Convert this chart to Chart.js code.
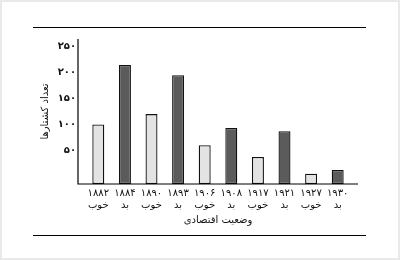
<!DOCTYPE html>
<html>
<head>
<meta charset="utf-8">
<script src="https://cdn.jsdelivr.net/npm/chart.js@4"></script>
<style>
  html, body { margin: 0; padding: 0; background: #fff; }
  #wrap { position: relative; width: 400px; height: 260px; box-sizing: border-box; border: 2px solid #e9e9e9; background: #fff; }
  #chart { position: absolute; left: 0; top: 0; }
  .rule { position: absolute; left: 31px; width: 333px; height: 1px; background: #000; }
</style>
</head>
<body>
<div id="wrap">
  <div class="rule" style="top:25px"></div>
  <div class="rule" style="top:233px"></div>
</div>
<canvas id="chart" width="400" height="260"></canvas>

<script>
// ===== داده ها =====
const YEARS = ["۱۸۸۲", "۱۸۸۴", "۱۸۹۰", "۱۸۹۳", "۱۹۰۶", "۱۹۰۸", "۱۹۱۷", "۱۹۲۱", "۱۹۲۷", "۱۹۳۰"];
const STATUS = ["خوب", "بد", "خوب", "بد", "خوب", "بد", "خوب", "بد", "خوب", "بد"];
const KILLINGS = [100, 215, 120, 195, 60, 93, 37, 87, 5, 12];
const Y_TICKS = [50, 100, 150, 200, 250];
const Y_TITLE = "تعداد کشتارها";
const X_TITLE = "وضعیت اقتصادی";

const FA_DIGITS = "۰۱۲۳۴۵۶۷۸۹";
function toFa(n){ return String(n).replace(/\d/g, d => FA_DIGITS[d]); }

const FONT = "'DejaVu Sans', sans-serif";
const LIGHT = "#e3e3e3";
const DARK = "#5b5b5b";

// axis lines drawn a little outside the plot area, like the original
const axisLines = {
  id: "axisLines",
  afterDraw(chart){
    const { ctx, chartArea } = chart;
    ctx.save();
    ctx.strokeStyle = "#000";
    ctx.lineWidth = 1.2;
    ctx.beginPath();
    ctx.moveTo(chartArea.left - 7, chartArea.top);
    ctx.lineTo(chartArea.left - 7, chartArea.bottom);
    ctx.lineTo(chartArea.right + 7, chartArea.bottom);
    ctx.stroke();
    ctx.restore();
  }
};

new Chart(document.getElementById("chart"), {
  type: "bar",
  data: {
    labels: YEARS.map((y, i) => [y, STATUS[i]]),
    datasets: [{
      data: KILLINGS,
      base: -15,
      backgroundColor: STATUS.map(s => s === "خوب" ? LIGHT : DARK),
      borderColor: "#111",
      borderWidth: 1.3,
      borderSkipped: false,
      barPercentage: 0.9,
      categoryPercentage: 0.5
    }]
  },
  options: {
    responsive: false,
    animation: false,
    layout: { padding: { left: 39, right: 49, top: 39, bottom: 34 } },
    plugins: { legend: { display: false }, tooltip: { enabled: false } },
    scales: {
      x: {
        grid: { display: false, drawTicks: false },
        border: { display: false },
        afterFit: s => { s.height = 42; },
        ticks: { color: "#111", padding: 4, maxRotation: 0, autoSkip: false, font: { family: FONT, size: 10, lineHeight: 1.15 } },
        title: { display: true, text: X_TITLE, color: "#111", padding: 0, font: { family: FONT, size: 10, lineHeight: 1.2 } }
      },
      y: {
        min: -15,
        max: 265,
        afterBuildTicks: s => { s.ticks = Y_TICKS.map(v => ({ value: v })); },
        afterFit: s => { s.width = 46; },
        grid: { display: false, drawTicks: false },
        border: { display: false },
        ticks: { color: "#111", padding: 9, callback: v => toFa(v), font: { family: FONT, size: 10, weight: "bold" } },
        title: { display: true, text: Y_TITLE, color: "#111", padding: 0, font: { family: FONT, size: 10, lineHeight: 1.2 } }
      }
    }
  },
  plugins: [axisLines]
});
</script>
</body>
</html>
